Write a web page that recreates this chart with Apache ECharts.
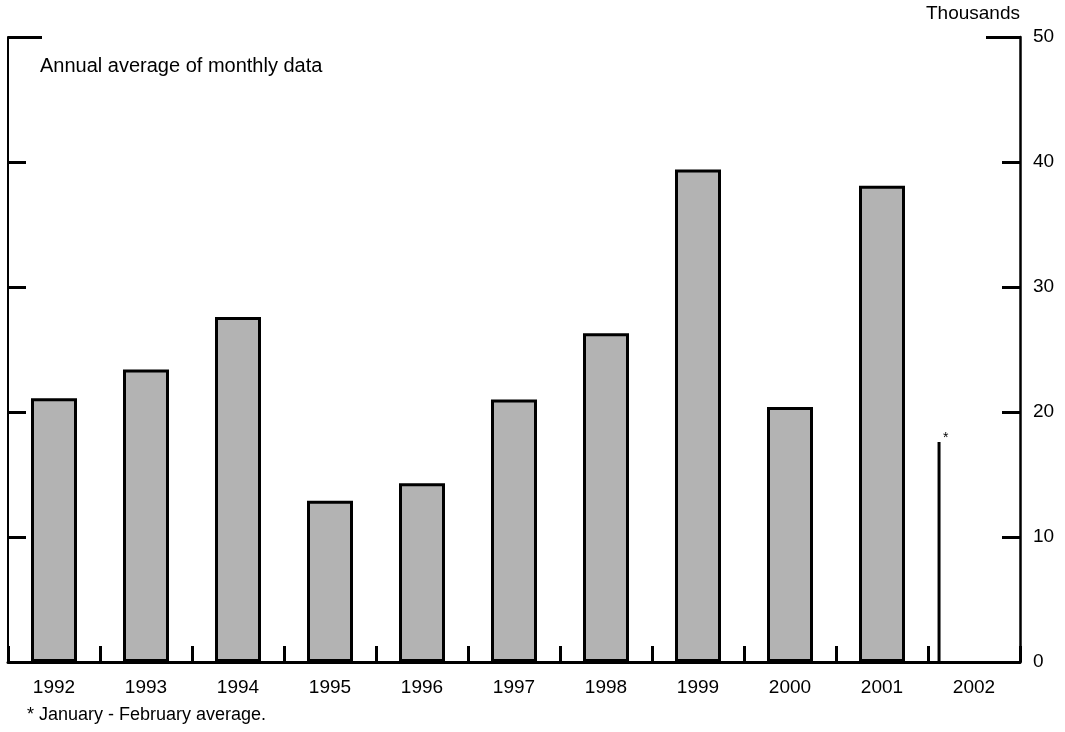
<!DOCTYPE html>
<html>
<head>
<meta charset="utf-8">
<script src="https://cdn.jsdelivr.net/npm/echarts@6/dist/echarts.min.js"></script>
<style>html,body{margin:0;padding:0;background:#fff}#c{width:1065px;height:732px}</style>
</head>
<body>
<div id="c"></div>
<script>
const years = ['1992','1993','1994','1995','1996','1997','1998','1999','2000','2001','2002'];
const annualAvg = [21.1, 23.4, 27.6, 12.9, 14.3, 21.0, 26.3, 39.4, 20.4, 38.1, null];
const partialYear = [['2002', 17.6]];
const yTicks = [0, 10, 20, 30, 40, 50];

const FONT = '"Liberation Sans", Arial, Helvetica, sans-serif';
const chart = echarts.init(document.getElementById('c'));
chart.setOption({
  animation: false,
  backgroundColor: '#fff',
  textStyle: { fontFamily: FONT },
  grid: { left: 8, right: 45, top: 37, bottom: 70, containLabel: false },
  xAxis: {
    type: 'category',
    data: years,
    boundaryGap: true,
    z: 5,
    axisLine: { show: true, lineStyle: { color: '#000', width: 3 } },
    axisTick: { show: true, interval: 0, alignWithLabel: false, inside: true, length: 16, lineStyle: { color: '#000', width: 3 } },
    axisLabel: { color: '#000', fontSize: 19, margin: 16, fontFamily: FONT, interval: 0 }
  },
  yAxis: [
    {
      type: 'value', position: 'left', min: yTicks[0], max: yTicks[yTicks.length-1], interval: 10,
      axisLine: { show: true, lineStyle: { color: '#000', width: 2 } },
      axisTick: { show: true, inside: true, length: 18, lineStyle: { color: '#000', width: 3 } },
      axisLabel: { show: false },
      splitLine: { show: false }
    },
    {
      type: 'value', position: 'right', min: yTicks[0], max: yTicks[yTicks.length-1], interval: 10,
      name: 'Thousands', nameLocation: 'end', nameGap: 23,
      nameTextStyle: { color: '#000', fontSize: 19, align: 'right', verticalAlign: 'middle', fontFamily: FONT },
      axisLine: { show: true, lineStyle: { color: '#000', width: 2.5 } },
      axisTick: { show: true, inside: true, length: 18, lineStyle: { color: '#000', width: 3 } },
      axisLabel: { color: '#000', fontSize: 19, margin: 13, fontFamily: FONT },
      splitLine: { show: false }
    },
    {
      type: 'value', position: 'left', min: 0, max: 50, interval: 50,
      axisLine: { show: false },
      axisTick: { show: true, inside: true, length: 34, customValues: [50], lineStyle: { color: '#000', width: 3 } },
      axisLabel: { show: false }, splitLine: { show: false }
    },
    {
      type: 'value', position: 'right', min: 0, max: 50, interval: 50,
      axisLine: { show: false },
      axisTick: { show: true, inside: true, length: 34, customValues: [50], lineStyle: { color: '#000', width: 3 } },
      axisLabel: { show: false }, splitLine: { show: false }
    }
  ],
  series: [
    {
      type: 'bar',
      data: annualAvg,
      barWidth: 46,
      itemStyle: { color: '#b3b3b3', borderColor: '#000', borderWidth: 3 },
      z: 2
    },
    {
      type: 'custom',
      data: partialYear,
      z: 3,
      renderItem: function (params, api) {
        const base = api.coord([api.value(0), 0]);
        const top = api.coord([api.value(0), api.value(1)]);
        const band = api.size([1, 0])[0];
        const x = top[0] - band * 0.38;
        return {
          type: 'group',
          children: [
            { type: 'line', shape: { x1: x, y1: base[1], x2: x, y2: top[1] }, style: { stroke: '#000', lineWidth: 3 } },
            { type: 'text', x: x + 4, y: top[1] - 4, style: { text: '*', fill: '#000', font: '14px ' + FONT, textAlign: 'left', textVerticalAlign: 'middle' } }
          ]
        };
      }
    }
  ],
  graphic: [
    { type: 'text', left: 40, top: 56, style: { text: 'Annual average of monthly data', fill: '#000', font: '20px ' + FONT } },
    { type: 'text', left: 27, top: 706, style: { text: '* January - February average.', fill: '#000', font: '18px ' + FONT } }
  ]
});
</script>
</body>
</html>
